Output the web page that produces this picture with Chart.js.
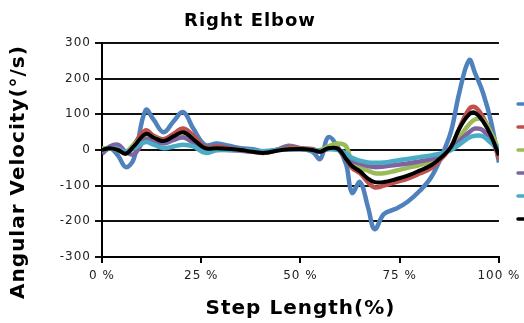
<!DOCTYPE html>
<html>
<head>
<meta charset="utf-8">
<script src="https://cdn.jsdelivr.net/npm/chart.js@4/dist/chart.umd.min.js"></script>
<style>
  html, body { margin: 0; padding: 0; background: #fff; overflow: hidden; }
  #wrap { width: 524px; height: 323px; }
</style>
</head>
<body>
<div id="wrap"><canvas id="plot" width="524" height="323"></canvas></div>
<script>
// step length (%)
const steps = [0, 2, 4, 6, 8, 11, 13, 15.5, 18, 20.5, 23, 26, 29, 32, 35, 38, 41, 44, 47, 50, 53, 55, 57, 59.5, 61.5, 63, 65, 67, 68.7, 71, 74, 77, 80, 83, 86, 88, 90, 92.5, 94, 96, 98, 100];

const trial1 = [-10, 5, -15, -48, -25, 112, 85, 50, 80, 106, 60, 14, 18, 12, 5, 2, -5, 0, 12, 5, -5, -25, 36, 6, -40, -120, -90, -160, -222, -180, -165, -145, -115, -75, -5, 55, 160, 252, 215, 160, 80, -35];
const trial2 = [-5, 5, 0, -10, 15, 55, 40, 30, 45, 60, 40, 8, 10, 5, 0, -5, -8, 0, 8, 5, 3, -5, 5, 3, -25, -50, -65, -90, -105, -100, -90, -80, -66, -50, -18, 10, 60, 115, 120, 92, 45, -25];
const trial3 = [5, 5, 0, -5, 15, 40, 35, 25, 30, 40, 25, 5, 3, 0, 0, -3, -5, 0, 3, 2, 0, 0, 10, 18, 10, -35, -50, -58, -65, -65, -58, -50, -42, -32, -12, 5, 35, 72, 86, 85, 48, 0];
const trial4 = [-10, 10, 15, -5, -12, 30, 25, 18, 28, 35, 20, 0, 0, 0, -2, -5, -5, 0, 2, 2, 0, -3, 3, 0, -15, -30, -38, -45, -48, -46, -42, -38, -32, -25, -10, 5, 25, 50, 60, 55, 25, -10];
const trial5 = [0, 5, 3, -5, 5, 22, 15, 5, 10, 15, 10, -8, 0, 0, 0, -3, -3, 0, 2, 2, 0, -3, 2, 0, -10, -22, -30, -35, -36, -35, -30, -25, -20, -15, -8, 0, 15, 35, 40, 38, 20, 5];
const mean = [0, 5, 0, -10, 10, 45, 35, 25, 38, 50, 30, 5, 5, 3, 0, -5, -8, -2, 2, 3, 0, -5, 5, 3, -25, -45, -60, -80, -90, -90, -82, -72, -58, -42, -15, 10, 60, 100, 104, 80, 40, -15];

const seriesNames = ['Trial 1', 'Trial 2', 'Trial 3', 'Trial 4', 'Trial 5', 'Mean'];
const seriesData = [trial1, trial2, trial3, trial4, trial5, mean];
const colors = ['#4F81BD', '#C0504D', '#9BBB59', '#8064A2', '#4BACC6', '#000000'];
const widths = [4.5, 4.5, 4.5, 4.5, 4.5, 4];

const yTicks = [-300, -200, -100, 0, 100, 200, 300];
const xTicks = [0, 25, 50, 75, 100];

const FONT = 'DejaVu Sans';

const datasets = seriesData.map((vals, i) => ({
    label: seriesNames[i],
    data: vals.map((v, k) => ({ x: steps[k], y: v })),
    borderColor: colors[i],
    backgroundColor: colors[i],
    borderWidth: widths[i],
    pointRadius: 0,
    tension: 0.4,
    fill: false,
    order: seriesData.length - 1 - i
}));

// text spacing, y title and the cropped legend swatches
const extras = {
    id: 'extras',
    beforeDraw(chart) {
        chart.ctx.letterSpacing = '1px';
    },
    afterDraw(chart) {
        const ctx = chart.ctx;
        ctx.save();
        ctx.letterSpacing = '1px';
        ctx.translate(19, 172);
        ctx.rotate(-Math.PI / 2);
        ctx.font = `bold 20px "${FONT}"`;
        ctx.fillStyle = '#000';
        ctx.textAlign = 'center';
        ctx.textBaseline = 'middle';
        ctx.fillText('Angular Velocity(°/s)', 0, 0);
        ctx.restore();

        ctx.save();
        ctx.lineCap = 'round';
        colors.forEach((c, i) => {
            const y = 104 + i * 23;
            ctx.strokeStyle = c;
            ctx.lineWidth = 3.5;
            ctx.beginPath();
            ctx.moveTo(518, y);
            ctx.lineTo(530, y);
            ctx.stroke();
            ctx.font = `11px "${FONT}"`;
            ctx.fillStyle = '#000';
            ctx.fillText(seriesNames[i], 534, y + 4);
        });
        ctx.restore();
    }
};

new Chart(document.getElementById('plot').getContext('2d'), {
    type: 'line',
    data: { datasets },
    plugins: [extras],
    options: {
        responsive: false,
        animation: false,
        layout: { padding: { left: 0, right: 24, top: 0, bottom: 0 } },
        plugins: {
            legend: { display: false },
            tooltip: { enabled: false },
            title: {
                display: true,
                text: 'Right Elbow',
                color: '#000',
                font: { family: FONT, size: 18, weight: 'bold' },
                padding: { top: 11, bottom: 10.4 }
            }
        },
        scales: {
            x: {
                type: 'linear',
                min: 0,
                max: 100,
                afterBuildTicks(scale) { scale.ticks = xTicks.map(v => ({ value: v })); },
                afterFit(scale) { scale.height = 66; },
                ticks: {
                    callback: v => v + ' %',
                    color: '#222',
                    padding: 6,
                    maxRotation: 0,
                    font: { family: FONT, size: 12 }
                },
                grid: {
                    drawOnChartArea: false,
                    drawTicks: true,
                    tickLength: 6,
                    color: '#000',
                    lineWidth: 2
                },
                border: { display: true, color: '#000', width: 2 },
                title: {
                    display: true,
                    text: 'Step Length(%)',
                    color: '#000',
                    font: { family: FONT, size: 20, weight: 'bold' },
                    padding: { top: 0, bottom: 2 }
                }
            },
            y: {
                min: -300,
                max: 300,
                afterBuildTicks(scale) { scale.ticks = yTicks.map(v => ({ value: v })); },
                afterFit(scale) { scale.width = 102; },
                ticks: {
                    color: '#222',
                    padding: 4,
                    font: { family: FONT, size: 12 }
                },
                grid: {
                    drawOnChartArea: true,
                    tickLength: 7,
                    color: '#111',
                    lineWidth: 2
                },
                border: { display: true, color: '#000', width: 2 }
            }
        }
    }
});
</script>
</body>
</html>
